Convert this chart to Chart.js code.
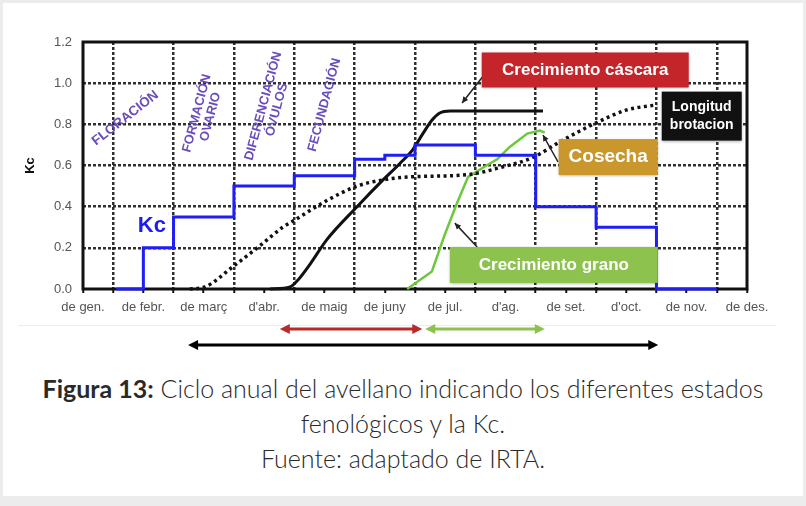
<!DOCTYPE html>
<html>
<head>
<meta charset="utf-8">
<script src="https://cdn.jsdelivr.net/npm/chart.js@4.4.0/dist/chart.umd.min.js"></script>
<style>
  html, body { margin: 0; padding: 0; background: #ececec; }
  #card { position: absolute; left: 3px; top: 3px; width: 800px; height: 493px; background: #fff; }
  #myChart { position: absolute; left: 0; top: 0; }
  #rule { position: absolute; left: 18px; top: 325px; width: 758px; height: 1px; background: #ededed; }
  #caption { position: absolute; left: 0; top: 371px; width: 806px; text-align: center;
    font-family: Lato, sans-serif; font-weight: 300; font-size: 25px; line-height: 35px; color: #2a2a2a; }
  #caption b { font-weight: 700; }
</style>
</head>
<body>
<div id="card"></div>
<div id="rule"></div>
<canvas id="myChart" width="806" height="360"></canvas>
<div id="caption"><b>Figura 13:</b> Ciclo anual del avellano indicando los diferentes estados<br>fenológicos y la Kc.<br>Fuente: adaptado de IRTA.</div>
<script>
// month labels (x = month index, 0 = gener)
const months = ['de gen.', 'de febr.', 'de març', "d'abr.", 'de maig', 'de juny',
  'de jul.', "d'ag.", 'de set.', "d'oct.", 'de nov.', 'de des.'];

// Kc (step line): start of each step and its value
const kcX = [0.55, 1.0, 1.5, 2.5, 3.5, 4.5, 5.0, 5.5, 6.5, 7.5, 8.5, 9.5, 10.5];
const kcY = [0, 0.2, 0.35, 0.5, 0.55, 0.63, 0.65, 0.7, 0.65, 0.4, 0.3, 0, 0];

// crecimiento cáscara (black solid)
const shellX = [3.10, 3.43, 3.55, 3.76, 4.04, 4.54, 4.97, 5.25, 5.47, 5.62, 5.78, 5.91, 6.08, 7.62];
const shellY = [0, 0.01, 0.04, 0.12, 0.24, 0.40, 0.53, 0.61, 0.68, 0.75, 0.82, 0.855, 0.865, 0.865];

// longitud brotación (black dotted)
const sproutX = [1.77, 2.02, 2.49, 2.93, 3.31, 3.48, 4.04, 4.54, 4.97, 5.42, 6.36, 6.91, 7.46, 7.90, 8.52, 9.01, 9.51];
const sproutY = [0, 0.01, 0.11, 0.21, 0.30, 0.33, 0.43, 0.50, 0.53, 0.545, 0.555, 0.59, 0.64, 0.715, 0.81, 0.87, 0.895];

// crecimiento grano (green)
const grainX = [5.37, 5.78, 6.0, 6.2, 6.38, 6.63, 6.86, 7.07, 7.36, 7.57, 7.65];
const grainY = [0, 0.085, 0.27, 0.42, 0.545, 0.59, 0.63, 0.69, 0.755, 0.77, 0.76];

// bottom period arrows, in months
const periodShell = [3.26, 5.62];
const periodGrain = [5.67, 7.65];
const periodSprout = [1.74, 9.53];

const pts = (xs, ys) => xs.map((x, i) => ({ x: x, y: ys[i] }));

const GRID = 'rgba(25,25,25,0.9)';

function arrowHead(ctx, x1, y1, x2, y2, len, wid) {
  const a = Math.atan2(y2 - y1, x2 - x1);
  ctx.beginPath();
  ctx.moveTo(x2, y2);
  ctx.lineTo(x2 - len * Math.cos(a) + wid * Math.sin(a), y2 - len * Math.sin(a) - wid * Math.cos(a));
  ctx.lineTo(x2 - len * Math.cos(a) - wid * Math.sin(a), y2 - len * Math.sin(a) + wid * Math.cos(a));
  ctx.closePath();
  ctx.fill();
}

function pointer(ctx, xs, ys, m1, v1, m2, v2) {
  const x1 = xs.getPixelForValue(m1), y1 = ys.getPixelForValue(v1);
  const x2 = xs.getPixelForValue(m2), y2 = ys.getPixelForValue(v2);
  ctx.save();
  ctx.strokeStyle = '#222'; ctx.fillStyle = '#222'; ctx.lineWidth = 1.5;
  ctx.beginPath(); ctx.moveTo(x1, y1); ctx.lineTo(x2, y2); ctx.stroke();
  arrowHead(ctx, x1, y1, x2, y2, 6, 3);
  ctx.restore();
}

function box(ctx, xs, ys, m, v, w, h, color, lines, size) {
  const cx = xs.getPixelForValue(m), cy = ys.getPixelForValue(v);
  ctx.save();
  ctx.shadowColor = 'rgba(0,0,0,0.35)'; ctx.shadowBlur = 3; ctx.shadowOffsetY = 1;
  ctx.fillStyle = color;
  ctx.fillRect(cx - w / 2, cy - h / 2, w, h);
  ctx.shadowColor = 'transparent';
  ctx.fillStyle = '#fff';
  ctx.font = 'bold ' + size + 'px "Liberation Sans", Arial, sans-serif';
  ctx.textAlign = 'center'; ctx.textBaseline = 'middle';
  const lh = size * 1.35;
  lines.forEach((t, i) => ctx.fillText(t, cx, cy + (i - (lines.length - 1) / 2) * lh));
  ctx.restore();
}

function rotText(ctx, xs, ys, m, v, deg, lines, size) {
  ctx.save();
  ctx.translate(xs.getPixelForValue(m), ys.getPixelForValue(v));
  ctx.rotate(deg * Math.PI / 180);
  ctx.fillStyle = '#6a4cbc';
  ctx.font = 'bold ' + size + 'px "Liberation Sans", Arial, sans-serif';
  ctx.textAlign = 'center'; ctx.textBaseline = 'middle';
  lines.forEach((t, i) => ctx.fillText(t, 0, (i - (lines.length - 1) / 2) * 14));
  ctx.restore();
}

function doubleArrow(ctx, xs, range, y, color) {
  const a = xs.getPixelForValue(range[0]), b = xs.getPixelForValue(range[1]);
  ctx.save();
  ctx.strokeStyle = color; ctx.fillStyle = color; ctx.lineWidth = 3;
  ctx.beginPath(); ctx.moveTo(a + 5, y); ctx.lineTo(b - 5, y); ctx.stroke();
  arrowHead(ctx, b - 10, y, b, y, 10, 5);
  arrowHead(ctx, a + 10, y, a, y, 10, 5);
  ctx.restore();
}

const overlay = {
  id: 'overlay',
  beforeDatasetsDraw(chart) {
    const { ctx, chartArea: c } = chart;
    ctx.save();
    ctx.strokeStyle = '#111';
    ctx.lineWidth = 3;
    ctx.strokeRect(c.left, c.top, c.right - c.left, c.bottom - c.top);
    ctx.restore();
  },
  afterDatasetsDraw(chart) {
    const ctx = chart.ctx, xs = chart.scales.x, ys = chart.scales.y;
    rotText(ctx, xs, ys, 0.70, 0.83, -38, ['FLORACIÓN'], 13.5);
    rotText(ctx, xs, ys, 2.0, 0.845, -75, ['FORMACIÓN', 'OVARIO'], 13);
    rotText(ctx, xs, ys, 3.1, 0.88, -75, ['DIFERENCIACIÓN', 'ÓVULOS'], 13);
    rotText(ctx, xs, ys, 4.0, 0.894, -75, ['FECUNDACIÓN'], 13);

    ctx.save();
    ctx.fillStyle = '#1c1cf0';
    ctx.font = 'bold 22px "Liberation Sans", Arial, sans-serif';
    ctx.textAlign = 'center'; ctx.textBaseline = 'middle';
    ctx.fillText('Kc', xs.getPixelForValue(1.14), ys.getPixelForValue(0.306));
    ctx.restore();

    pointer(ctx, xs, ys, 6.63, 1.035, 6.28, 0.904);
    pointer(ctx, xs, ys, 7.87, 0.617, 7.62, 0.748);
    pointer(ctx, xs, ys, 6.53, 0.204, 6.16, 0.32);

    box(ctx, xs, ys, 8.32, 1.064, 207, 35, '#c3252b', ['Crecimiento cáscara'], 17);
    box(ctx, xs, ys, 10.25, 0.84, 80, 49, '#111', ['Longitud', 'brotacion'], 14);
    box(ctx, xs, ys, 8.70, 0.641, 99, 36, '#c9972c', ['Cosecha'], 19);
    box(ctx, xs, ys, 7.80, 0.117, 208, 36, '#8dc24f', ['Crecimiento grano'], 17);
  },
  afterDraw(chart) {
    const ctx = chart.ctx, xs = chart.scales.x;
    doubleArrow(ctx, xs, periodShell, 329, '#b82a2a');
    doubleArrow(ctx, xs, periodGrain, 329, '#8dc24f');
    doubleArrow(ctx, xs, periodSprout, 345, '#000');
  }
};

const data = {
  datasets: [{
    label: 'Kc',
    data: pts(kcX, kcY),
    stepped: 'before',
    borderColor: '#1f1ff5',
    borderWidth: 3,
    pointRadius: 0,
    clip: false
  },
  {
    label: 'Crecimiento cáscara',
    data: pts(shellX, shellY),
    cubicInterpolationMode: 'monotone',
    borderColor: '#111',
    borderWidth: 3,
    pointRadius: 0,
    clip: false
  },
  {
    label: 'Longitud brotacion',
    data: pts(sproutX, sproutY),
    cubicInterpolationMode: 'monotone',
    borderColor: '#111',
    borderWidth: 3.5,
    borderDash: [3, 3.5],
    pointRadius: 0,
    clip: false
  },
  {
    label: 'Crecimiento grano',
    data: pts(grainX, grainY),
    tension: 0,
    borderColor: '#6cc83c',
    borderWidth: 2.5,
    pointRadius: 0,
    clip: false
  }]
};

const config = {
  type: 'line',
  data: data,
  plugins: [overlay],
  options: {
    responsive: false,
    animation: false,
    layout: { padding: { left: 0, right: 59, top: 42, bottom: 0 } },
    plugins: { legend: { display: false }, tooltip: { enabled: false } },
    scales: {
      x: {
        type: 'linear',
        min: 0,
        max: 11,
        afterFit: (s) => { s.height = 71; },
        ticks: {
          stepSize: 0.5,
          autoSkip: false,
          maxRotation: 0,
          padding: 7,
          color: '#555',
          font: { family: '"Liberation Sans", Arial, sans-serif', size: 13 },
          callback: (v) => Number.isInteger(v) ? months[v] : ''
        },
        grid: {
          color: (c) => (c.tick && !Number.isInteger(c.tick.value)) ? GRID : 'transparent',
          lineWidth: 2.5,
          tickLength: 4,
          tickColor: '#111',
          tickWidth: 2
        },
        border: { display: false, dash: [3, 2] }
      },
      y: {
        min: 0,
        max: 1.2,
        afterFit: (s) => { s.width = 83; },
        ticks: {
          stepSize: 0.2,
          padding: 11,
          color: '#555',
          font: { family: '"Liberation Sans", Arial, sans-serif', size: 13 },
          callback: (v) => v.toFixed(1)
        },
        grid: {
          color: (c) => (c.tick && c.tick.value > 0.01 && c.tick.value < 1.19) ? GRID : 'transparent',
          lineWidth: 2.5,
          drawTicks: false
        },
        border: { display: false, dash: [3, 2] },
        title: {
          display: true,
          text: 'Kc',
          color: '#111',
          padding: { top: 23, bottom: 0 },
          font: { family: '"Liberation Sans", Arial, sans-serif', size: 13, weight: 'bold' }
        }
      }
    }
  }
};

const myChart = new Chart(document.getElementById('myChart'), config);
</script>
</body>
</html>
